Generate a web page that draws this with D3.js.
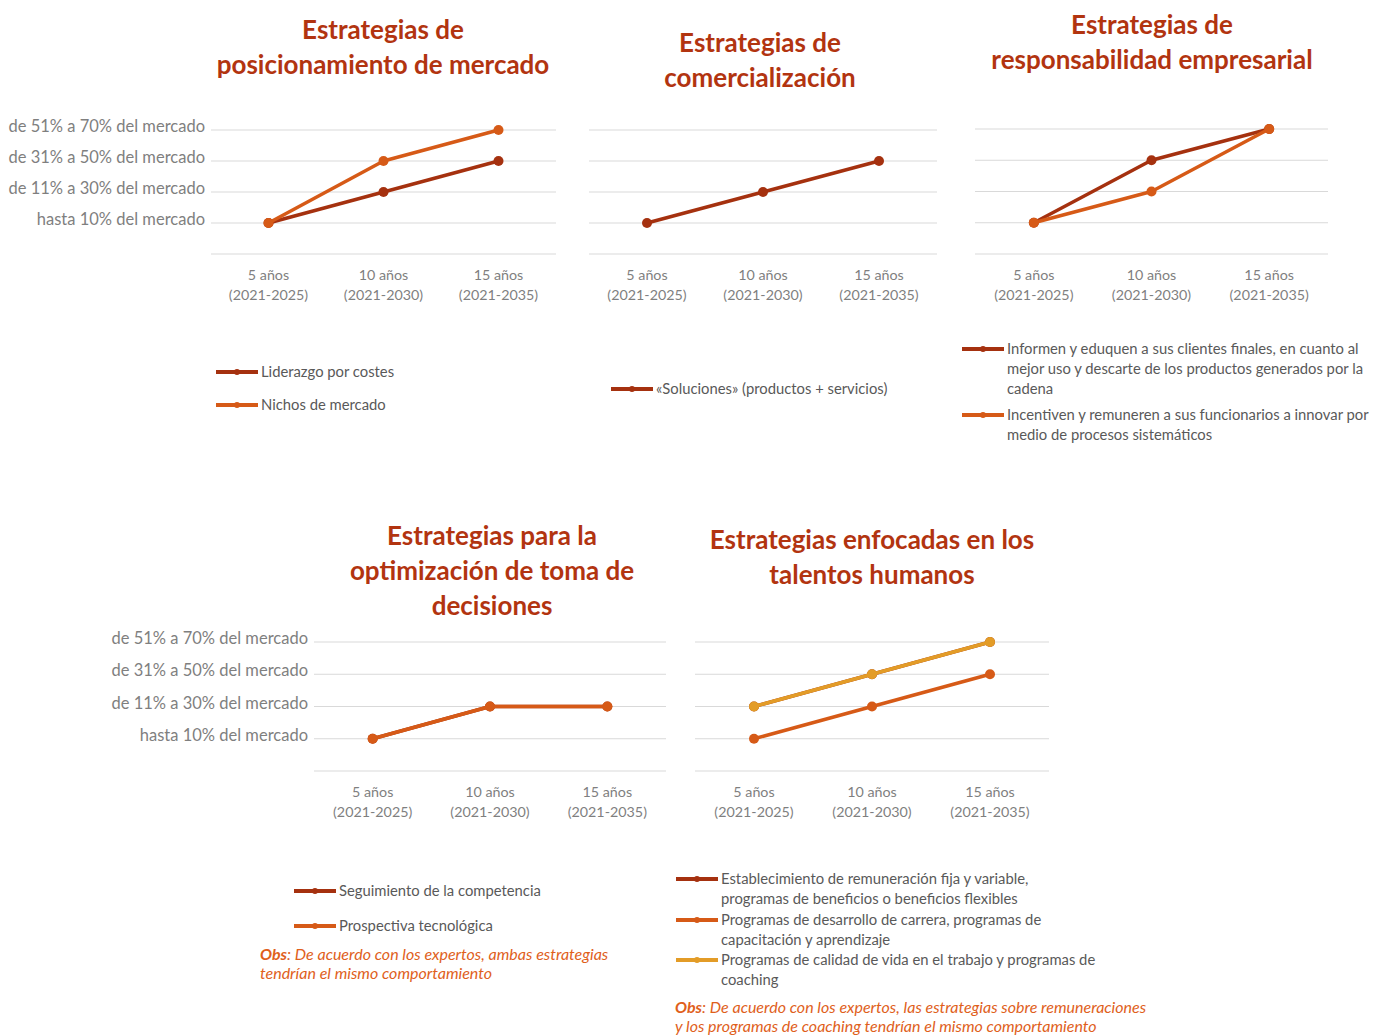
<!DOCTYPE html>
<html>
<head>
<meta charset="utf-8">
<script src="https://cdn.jsdelivr.net/npm/d3@7"></script>
<style>
  body { margin: 0; background: #fff; }
  svg { font-family: Lato, "Open Sans", sans-serif; }
</style>
</head>
<body>
<svg id="chart" width="1375" height="1035"></svg>
<script>
// Periods (x axis, two lines each)
const periods = [["5 años", "(2021-2025)"], ["10 años", "(2021-2030)"], ["15 años", "(2021-2035)"]];
// Market share levels (y axis, level 1..4)
const levels = ["hasta 10% del mercado", "de 11% a 30% del mercado", "de 31% a 50% del mercado", "de 51% a 70% del mercado"];

// Series values as level index
const liderazgoCostes = [1, 2, 3];
const nichosMercado = [1, 3, 4];
const soluciones = [1, 2, 3];
const informenEduquen = [1, 3, 4];
const incentivenRemuneren = [1, 2, 4];
const seguimientoCompetencia = [1, 2, 2];
const prospectivaTecnologica = [1, 2, 2];
const remuneracionFija = [2, 3, 4];
const desarrolloCarrera = [1, 2, 3];
const calidadVida = [2, 3, 4];

const DARK = "#a5310f", ORANGE = "#d65a17", GOLD = "#e39c27";
const TITLE = "#b23410", AXIS = "#7f7f7f", LEG = "#595959", OBS = "#e0601b";

const svg = d3.select("#chart");

const charts = [
  {
    title: ["Estrategias de", "posicionamiento de mercado"], titleX: 383, titleY: 30,
    x0: 211, x1: 556, top: 130, bottom: 254, yLabels: true,
    series: [
      { name: ["Liderazgo por costes"], values: liderazgoCostes, color: DARK },
      { name: ["Nichos de mercado"], values: nichosMercado, color: ORANGE }
    ],
    legend: { x: 216, ys: [372, 405] }
  },
  {
    title: ["Estrategias de", "comercialización"], titleX: 760, titleY: 43,
    x0: 589, x1: 937, top: 130, bottom: 254, yLabels: false,
    series: [
      { name: ["«Soluciones» (productos + servicios)"], values: soluciones, color: DARK }
    ],
    legend: { x: 611, ys: [389] }
  },
  {
    title: ["Estrategias de", "responsabilidad empresarial"], titleX: 1152, titleY: 25,
    x0: 975, x1: 1328, top: 129, bottom: 254, yLabels: false,
    series: [
      { name: ["Informen y eduquen a sus clientes finales, en cuanto al", "mejor uso y descarte de los productos generados por la", "cadena"], values: informenEduquen, color: DARK },
      { name: ["Incentiven y remuneren a sus funcionarios a innovar por", "medio de procesos sistemáticos"], values: incentivenRemuneren, color: ORANGE }
    ],
    legend: { x: 962, ys: [349, 415] }
  },
  {
    title: ["Estrategias para la", "optimización de toma de", "decisiones"], titleX: 492, titleY: 536,
    x0: 314, x1: 666, top: 642, bottom: 771, yLabels: true,
    series: [
      { name: ["Seguimiento de la competencia"], values: seguimientoCompetencia, color: DARK },
      { name: ["Prospectiva tecnológica"], values: prospectivaTecnologica, color: ORANGE }
    ],
    legend: { x: 294, ys: [891, 926] },
    obs: { x: 260, y: 955, lines: [": De acuerdo con los expertos, ambas estrategias", "tendrían el mismo comportamiento"] }
  },
  {
    title: ["Estrategias enfocadas en los", "talentos humanos"], titleX: 872, titleY: 540,
    x0: 695, x1: 1049, top: 642, bottom: 771, yLabels: false,
    series: [
      { name: ["Establecimiento de remuneración fija y variable,", "programas de beneficios o beneficios flexibles"], values: remuneracionFija, color: DARK },
      { name: ["Programas de desarrollo de carrera, programas de", "capacitación y aprendizaje"], values: desarrolloCarrera, color: ORANGE },
      { name: ["Programas de calidad de vida en el trabajo y programas de", "coaching"], values: calidadVida, color: GOLD }
    ],
    legend: { x: 676, ys: [879, 920, 960] },
    obs: { x: 675, y: 1008, lines: [": De acuerdo con los expertos, las estrategias sobre remuneraciones", "y los programas de coaching tendrían el mismo comportamiento"] }
  }
];

charts.forEach(c => {
  const g = svg.append("g");

  // Title
  g.append("text")
    .attr("x", c.titleX).attr("y", c.titleY)
    .attr("text-anchor", "middle")
    .attr("fill", TITLE)
    .style("font-size", "26px").style("font-weight", "bold")
    .selectAll("tspan").data(c.title).join("tspan")
    .attr("x", c.titleX)
    .attr("dy", (d, i) => i === 0 ? "0.35em" : 35)
    .text(d => d);

  const x = d3.scaleBand().domain(d3.range(periods.length)).range([c.x0, c.x1]);
  const y = d3.scaleLinear().domain([0, levels.length]).range([c.bottom, c.top]);

  // Gridlines (0 = baseline)
  g.append("g").selectAll("line").data(d3.range(0, levels.length + 1)).join("line")
    .attr("x1", c.x0).attr("x2", c.x1)
    .attr("y1", d => y(d)).attr("y2", d => y(d))
    .attr("stroke", "#d9d9d9").attr("stroke-width", 1.2);

  // Y labels
  if (c.yLabels) {
    g.append("g").selectAll("text").data(levels).join("text")
      .attr("x", c.x0 - 6)
      .attr("y", (d, i) => y(i + 1) + 2)
      .attr("text-anchor", "end")
      .attr("fill", AXIS)
      .style("font-size", "16.5px")
      .text(d => d);
  }

  // X labels
  const xl = g.append("g").selectAll("text").data(periods).join("text")
    .attr("text-anchor", "middle")
    .attr("fill", AXIS)
    .style("font-size", "14.3px");
  xl.selectAll("tspan").data((d, i) => d.map(t => ({ t, i }))).join("tspan")
    .attr("x", d => x(d.i) + x.bandwidth() / 2)
    .attr("y", (d, j) => c.bottom + 21 + j * 20 + 5)
    .text(d => d.t);

  // Lines: draw in order, later on top
  const line = d3.line()
    .x((d, i) => x(i) + x.bandwidth() / 2)
    .y(d => y(d));

  c.series.forEach(s => {
    g.append("path")
      .datum(s.values)
      .attr("d", line)
      .attr("fill", "none")
      .attr("stroke", s.color)
      .attr("stroke-width", 3.5)
      .attr("stroke-linejoin", "round");
    g.append("g").selectAll("circle").data(s.values).join("circle")
      .attr("cx", (d, i) => x(i) + x.bandwidth() / 2)
      .attr("cy", d => y(d))
      .attr("r", 5)
      .attr("fill", s.color);
  });

  // Legend
  c.series.forEach((s, k) => {
    const ly = c.legend.ys[k];
    const lg = g.append("g");
    lg.append("line")
      .attr("x1", c.legend.x).attr("x2", c.legend.x + 42)
      .attr("y1", ly).attr("y2", ly)
      .attr("stroke", s.color).attr("stroke-width", 4);
    lg.append("circle")
      .attr("cx", c.legend.x + 21).attr("cy", ly).attr("r", 3)
      .attr("fill", s.color);
    lg.append("text")
      .attr("fill", LEG)
      .style("font-size", "14.8px")
      .selectAll("tspan").data(s.name).join("tspan")
      .attr("x", c.legend.x + 45)
      .attr("y", (d, i) => ly + 5 + i * 20)
      .text(d => d);
  });

  // Observation note
  if (c.obs) {
    const t = g.append("text")
      .attr("fill", OBS)
      .style("font-size", "16px").style("font-style", "italic");
    c.obs.lines.forEach((l, i) => {
      const row = t.append("tspan").attr("x", c.obs.x).attr("y", c.obs.y + 5 + i * 19);
      if (i === 0) {
        row.append("tspan").style("font-weight", "bold").text("Obs");
        t.append("tspan").text(l);
      } else {
        row.text(l);
      }
    });
  }
});
</script>
</body>
</html>
